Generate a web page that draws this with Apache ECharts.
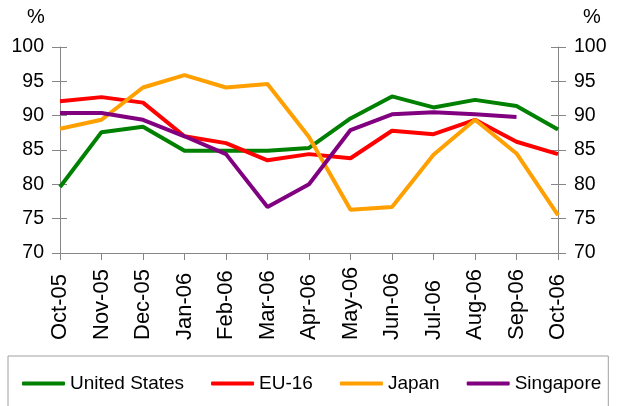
<!DOCTYPE html>
<html>
<head>
<meta charset="utf-8">
<script src="https://cdn.jsdelivr.net/npm/echarts@6/dist/echarts.min.js"></script>
<style>
  html, body { margin: 0; padding: 0; background: #fff; }
  #chart { width: 622px; height: 406px; }
</style>
</head>
<body>
<div id="chart"></div>
<script>
// categories and series
const months = ["Oct-05", "Nov-05", "Dec-05", "Jan-06", "Feb-06", "Mar-06", "Apr-06",
  "May-06", "Jun-06", "Jul-06", "Aug-06", "Sep-06", "Oct-06"];
const unitedStates = [79.6, 87.6, 88.4, 84.9, 84.9, 84.9, 85.3, 89.6, 92.8, 91.2, 92.3, 91.4, 88.0];
const eu16 = [92.1, 92.7, 91.9, 87.0, 86.0, 83.5, 84.4, 83.8, 87.8, 87.3, 89.4, 86.2, 84.4];
const japan = [88.1, 89.4, 94.1, 95.9, 94.1, 94.6, 86.9, 76.3, 76.7, 84.3, 89.4, 84.5, 75.5];
const singapore = [90.4, 90.4, 89.4, 87.0, 84.4, 76.7, 80.0, 87.9, 90.2, 90.5, 90.2, 89.8, null];
const yTicks = { min: 70, max: 100, interval: 5 };

const FONT = "Liberation Sans, Arial, sans-serif";
const AXIS_GREY = "#868686";

const chart = echarts.init(document.getElementById("chart"));

// y axis helper: main axis carries labels + outer ticks, twin adds inner ticks
const makeY = (position, inside) => ({
  type: "value",
  position: position,
  min: yTicks.min,
  max: yTicks.max,
  interval: yTicks.interval,
  splitLine: { show: false },
  axisLine: { show: !inside, lineStyle: { color: AXIS_GREY, width: 1 } },
  axisTick: {
    show: true,
    inside: inside,
    length: inside ? 7 : 8,
    lineStyle: { color: AXIS_GREY, width: 1 },
  },
  axisLabel: {
    show: !inside,
    margin: 16,
    color: "#000",
    fontFamily: FONT,
    fontSize: 19.5,
  },
});

const line = (name, data, color) => ({
  name: name,
  type: "line",
  data: data,
  yAxisIndex: 0,
  symbol: "none",
  smooth: false,
  connectNulls: false,
  lineStyle: { color: color, width: 4 },
  itemStyle: { color: color },
});

const option = {
  animation: false,
  grid: { left: 60, right: 64, top: 47, bottom: 153, containLabel: false },
  xAxis: {
    type: "category",
    data: months,
    boundaryGap: false,
    axisLine: { lineStyle: { color: AXIS_GREY, width: 1 } },
    axisTick: { show: true, length: 7, interval: 0, lineStyle: { color: AXIS_GREY } },
    axisLabel: {
      interval: 0,
      rotate: 90,
      // labels start from a common baseline below the axis and read upward
      align: "left",
      margin: 87,
      color: "#000",
      fontFamily: FONT,
      fontSize: 22,
    },
  },
  yAxis: [makeY("left", false), makeY("left", true), makeY("right", false), makeY("right", true)],
  legend: {
    left: 8,
    top: 356,
    padding: [18, 7, 30, 14],
    borderColor: "#a0a0a0",
    borderWidth: 1,
    itemWidth: 43,
    itemHeight: 4,
    itemGap: 27,
    icon: "roundRect",
    textStyle: { color: "#000", fontFamily: FONT, fontSize: 19, padding: [0, 0, 0, 0] },
    data: ["United States", "EU-16", "Japan", "Singapore"],
  },
  graphic: [
    { type: "text", x: 36, y: 17, style: { text: "%", fill: "#000", font: "20px " + FONT, textAlign: "center", textVerticalAlign: "middle" } },
    { type: "text", x: 592, y: 17, style: { text: "%", fill: "#000", font: "20px " + FONT, textAlign: "center", textVerticalAlign: "middle" } },
  ],
  series: [
    line("United States", unitedStates, "#008000"),
    line("EU-16", eu16, "#ff0000"),
    line("Japan", japan, "#ffa000"),
    line("Singapore", singapore, "#800080"),
  ],
};

chart.setOption(option);
</script>
</body>
</html>
